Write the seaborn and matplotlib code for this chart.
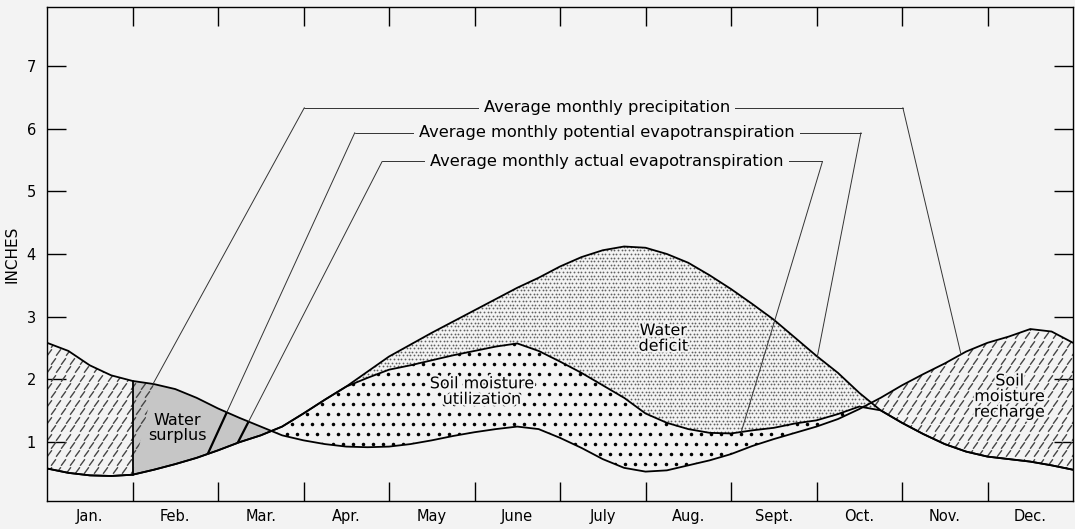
import numpy as np
import pandas as pd
import matplotlib
matplotlib.use("Agg")
from matplotlib import pyplot as plt
from matplotlib.path import Path
from matplotlib import patheffects
import seaborn as sns

# ------------------------------------------------------------------
# data, one value every quarter month (inches)
# ------------------------------------------------------------------
months = ["Jan.", "Feb.", "Mar.", "Apr.", "May", "June",
          "July", "Aug.", "Sept.", "Oct.", "Nov.", "Dec."]
x_step = np.arange(0, 12.01, 0.25)

precip = [2.58, 2.45, 2.22, 2.06, 1.97, 1.92, 1.84, 1.70, 1.53, 1.38,
          1.24, 1.10, 1.02, 0.96, 0.92, 0.91, 0.92, 0.96, 1.02, 1.09,
          1.15, 1.20, 1.24, 1.20, 1.06, 0.90, 0.72, 0.58, 0.52, 0.54,
          0.62, 0.70, 0.80, 0.93, 1.04, 1.14, 1.24, 1.36, 1.52, 1.70,
          1.90, 2.08, 2.25, 2.44, 2.58, 2.68, 2.80, 2.76, 2.58]

pot_et = [0.57, 0.50, 0.46, 0.45, 0.47, 0.55, 0.64, 0.74, 0.86, 0.99,
          1.10, 1.24, 1.45, 1.67, 1.88, 2.12, 2.36, 2.55, 2.74, 2.92,
          3.10, 3.28, 3.46, 3.62, 3.80, 3.95, 4.06, 4.12, 4.10, 4.00,
          3.86, 3.66, 3.44, 3.20, 2.95, 2.66, 2.37, 2.10, 1.78, 1.50,
          1.30, 1.12, 0.96, 0.84, 0.76, 0.72, 0.68, 0.62, 0.55]

act_et = [0.57, 0.50, 0.46, 0.45, 0.47, 0.55, 0.64, 0.74, 0.86, 0.99,
          1.10, 1.24, 1.45, 1.67, 1.88, 2.02, 2.15, 2.22, 2.30, 2.38,
          2.45, 2.52, 2.57, 2.45, 2.28, 2.10, 1.90, 1.70, 1.45, 1.30,
          1.20, 1.14, 1.13, 1.18, 1.22, 1.29, 1.34, 1.44, 1.56, 1.50,
          1.30, 1.12, 0.96, 0.84, 0.76, 0.72, 0.68, 0.62, 0.55]

leader_labels = ["Average monthly precipitation",
                 "Average monthly potential evapotranspiration",
                 "Average monthly actual evapotranspiration"]

BG = "#f3f3f3"


def pattern_fill(ax, top, bottom, where, dx, dy, **kw):
    # invisible fill to get the outline, then a grid of marks clipped to it
    poly = ax.fill_between(x_step, top, bottom, where=where, interpolate=True,
                           facecolor="none", edgecolor="none")
    clip = Path.make_compound_path(*poly.get_paths())
    xs = np.arange(-0.2, 12.3, dx)
    ys = np.arange(0.0, 4.5, dy)
    gx, gy = np.meshgrid(xs, ys)
    gx = gx + (np.arange(len(ys))[:, None] % 2) * dx / 2
    sc = ax.scatter(gx.ravel(), gy.ravel(), **kw)
    sc.set_clip_path(clip, ax.transData)
    return clip


def leader(ax, corner, target_x, curve, clip=None):
    ty = np.interp(target_x, x_step, curve)
    ax.plot([corner[0], target_x], [corner[1], ty], color="#333333", lw=0.7, zorder=4)
    if clip is not None:
        ln, = ax.plot([corner[0], target_x], [corner[1], ty], color="black", lw=1.6, zorder=4)
        ln.set_clip_path(clip, ax.transData)


def main():
    sns.set_theme(style="ticks")
    plt.rcParams["font.family"] = ["DejaVu Sans"]
    plt.rcParams["text.color"] = "black"
    plt.rcParams["axes.labelcolor"] = "black"
    plt.rcParams["xtick.color"] = "black"
    plt.rcParams["ytick.color"] = "black"

    df = pd.DataFrame({"month": x_step, "precip": precip,
                       "pot_et": pot_et, "act_et": act_et})
    p = df["precip"].to_numpy()
    pe = df["pot_et"].to_numpy()
    ae = df["act_et"].to_numpy()

    fig = plt.figure(figsize=(10.75, 5.29), dpi=100, facecolor=BG)
    ax = fig.add_axes([47 / 1075, 28 / 529, 1026 / 1075, 494 / 529])
    ax.set_facecolor(BG)

    # water surplus (grey)
    surplus = ax.fill_between(x_step, p, pe, where=(p >= pe) & (x_step >= 1) & (x_step <= 6),
                              interpolate=True, facecolor="#c6c6c6", edgecolor="none", zorder=1)
    surplus_clip = Path.make_compound_path(*surplus.get_paths())

    # soil moisture recharge (broken hatch)
    dash = Path([[-0.55, -0.75], [0.55, 0.75]], [Path.MOVETO, Path.LINETO])
    pattern_fill(ax, p, pe, (p >= pe) & ((x_step <= 1) | (x_step >= 6)), 0.11, 0.135,
                 marker=dash, s=22, linewidths=1.0, color="#444444", zorder=2)

    # soil moisture utilization (heavy dots)
    pattern_fill(ax, ae, p, ae > p, 0.118, 0.16,
                 marker="o", s=6.5, linewidths=0, color="black", zorder=2)

    # water deficit (fine stipple)
    pattern_fill(ax, pe, ae, pe > ae, 0.043, 0.058,
                 marker="o", s=1.7, linewidths=0, color="#606060", zorder=2)

    # curves
    for col in ["precip", "pot_et", "act_et"]:
        sns.lineplot(data=df, x="month", y=col, ax=ax, color="black", lw=1.3, zorder=3)
    ax.plot([1, 1], [pe[4], p[4]], color="black", lw=1.3, zorder=3)

    # leader lines and their labels
    rows = [(6.34, 3.01, 10.01, 1.24, 10.69, p),
            (5.94, 3.60, 9.52, 1.88, 9.01, pe),
            (5.48, 3.92, 9.07, 2.23, 8.12, ae)]
    for label, (yy, xl, xr, tl, tr, curve) in zip(leader_labels, rows):
        ax.plot([xl, xr], [yy, yy], color="#333333", lw=0.7, zorder=4)
        leader(ax, (xl, yy), tl, curve, clip=None if curve is p else surplus_clip)
        leader(ax, (xr, yy), tr, curve)
        ax.text(6.55, yy, label, ha="center", va="center", fontsize=11.7, zorder=5,
                bbox=dict(facecolor=BG, edgecolor="none", pad=3.5))

    # region names, patterned ones get a thin halo so the dots keep off the letters
    halo = [patheffects.withStroke(linewidth=3, foreground=BG)]
    kw = dict(ha="center", va="center", fontsize=11.5, linespacing=1.05, zorder=5)
    ax.text(1.52, 1.22, "Water\nsurplus", **kw)
    ax.text(5.09, 1.80, "Soil moisture\nutilization", path_effects=halo, **kw)
    ax.text(7.21, 2.65, "Water\ndeficit", path_effects=halo, **kw)
    ax.text(11.26, 1.72, "Soil\nmoisture\nrecharge", path_effects=halo, **kw)

    # axes
    ax.set_xlim(0, 12)
    ax.set_ylim(0.05, 7.95)
    ax.set_xticks(np.arange(1, 12))
    ax.set_xticklabels([])
    ax.set_xticks(np.arange(0.5, 12), minor=True)
    ax.set_xticklabels(months, minor=True, fontsize=10.5)
    ax.set_yticks(range(1, 8))
    ax.set_yticklabels([str(i) for i in range(1, 8)], fontsize=10.5)
    ax.tick_params(which="major", direction="in", length=14, width=1,
                   top=True, right=True, color="black")
    ax.tick_params(axis="x", which="minor", length=0, pad=6)
    ax.tick_params(axis="y", pad=8)
    ax.set_xlabel("")
    ax.set_ylabel("INCHES", fontsize=11, labelpad=5)
    for s in ax.spines.values():
        s.set_visible(True)
        s.set_color("black")
        s.set_linewidth(1)

    fig.savefig("out.png", dpi=100, facecolor=BG)


if __name__ == "__main__":
    main()
